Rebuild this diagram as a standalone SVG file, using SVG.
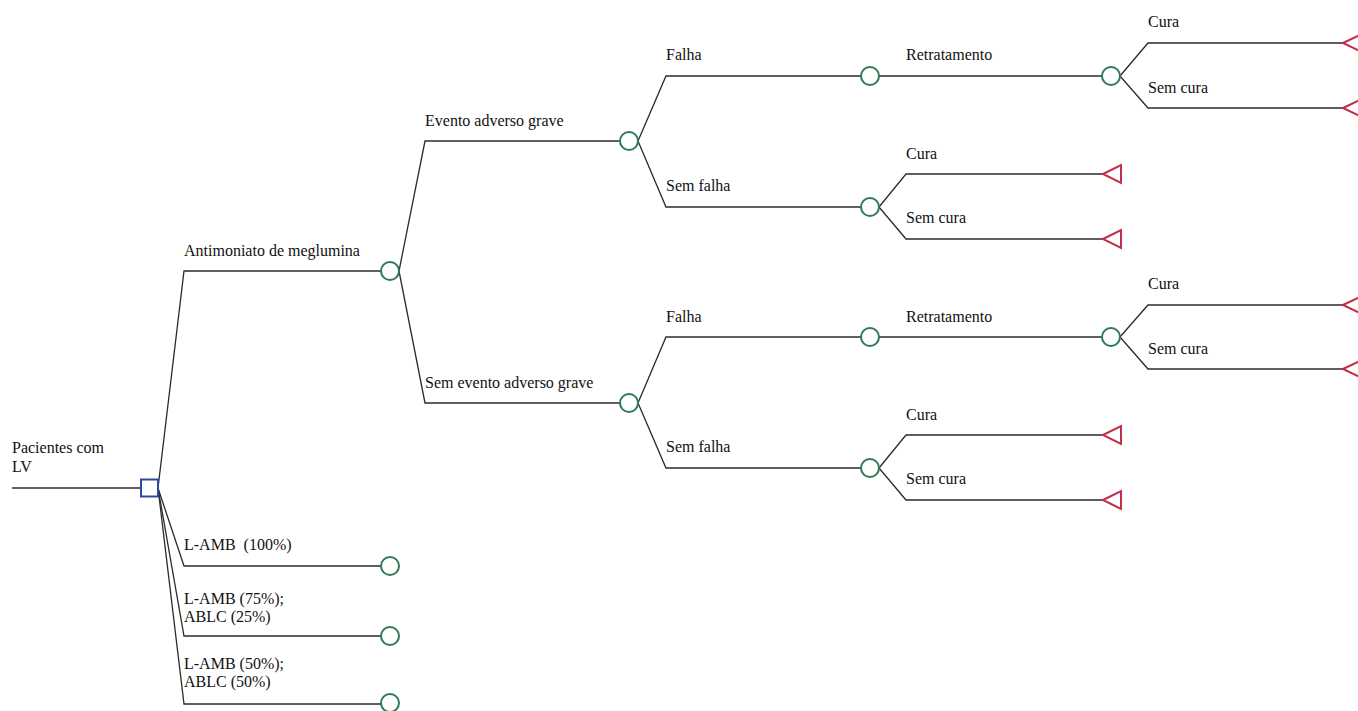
<svg xmlns="http://www.w3.org/2000/svg" width="1358" height="711" viewBox="0 0 1358 711">
<style>
.ln{fill:none;stroke:#2b2b2b;stroke-width:1.3}
.ch{fill:#fff;stroke:#2f7a55;stroke-width:2}
.dc{fill:#fff;stroke:#2a4a9a;stroke-width:2}
.tm{fill:#fff;stroke:#c0304a;stroke-width:2}
text{font-family:"Liberation Serif","Times New Roman",serif;font-size:16px;fill:#111}
</style>
<rect width="1358" height="711" fill="#fff"/>
<g id="connectors">
<path class="ln" d="M12,488H141"/>
<path class="ln" d="M158,488L184,271H381"/>
<path class="ln" d="M158,488L184,566H381"/>
<path class="ln" d="M158,488L184,636H381"/>
<path class="ln" d="M158,488L184,704H381"/>
<path class="ln" d="M399,271L425,141H620"/>
<path class="ln" d="M399,271L425,403H620"/>
<path class="ln" d="M638,141L666,76H861"/>
<path class="ln" d="M638,141L666,207H861"/>
<path class="ln" d="M879,76H1102"/>
<path class="ln" d="M1120,76L1148,43H1343"/>
<path class="ln" d="M1120,76L1148,108H1343"/>
<path class="ln" d="M879,207L906,174H1103"/>
<path class="ln" d="M879,207L906,239H1103"/>
<path class="ln" d="M638,403L666,337H861"/>
<path class="ln" d="M638,403L666,468H861"/>
<path class="ln" d="M879,337H1102"/>
<path class="ln" d="M1120,337L1148,305H1343"/>
<path class="ln" d="M1120,337L1148,369H1343"/>
<path class="ln" d="M879,468L906,435H1103"/>
<path class="ln" d="M879,468L906,500H1103"/>
</g>
<g id="root"><rect class="dc" x="141" y="479.5" width="17" height="17"/><text x="12" y="453">Pacientes com</text><text x="12" y="472">LV</text></g>
<g id="antimoniato"><circle class="ch" cx="390" cy="271" r="9"/><text x="184" y="256">Antimoniato de meglumina</text></g>
<g id="lamb100"><circle class="ch" cx="390" cy="566" r="9"/><text x="184" y="550" xml:space="preserve">L-AMB  (100%)</text></g>
<g id="lamb75"><circle class="ch" cx="390" cy="636" r="9"/><text x="184" y="604">L-AMB (75%);</text><text x="184" y="622">ABLC (25%)</text></g>
<g id="lamb50"><circle class="ch" cx="390" cy="703" r="9"/><text x="184" y="669">L-AMB (50%);</text><text x="184" y="687">ABLC (50%)</text></g>
<g id="eag"><circle class="ch" cx="629" cy="141" r="9"/><text x="425" y="126">Evento adverso grave</text></g>
<g id="seag"><circle class="ch" cx="629" cy="403" r="9"/><text x="425" y="388">Sem evento adverso grave</text></g>
<g id="falha1"><circle class="ch" cx="870" cy="76" r="9"/><text x="666" y="60">Falha</text></g>
<g id="semfalha1"><circle class="ch" cx="870" cy="207" r="9"/><text x="666" y="191">Sem falha</text></g>
<g id="retrat1"><circle class="ch" cx="1111" cy="76" r="9"/><text x="906" y="60">Retratamento</text></g>
<g id="cura1"><polygon class="tm" points="1343,43 1362,34 1362,52"/><text x="1148" y="27">Cura</text></g>
<g id="semcura1"><polygon class="tm" points="1343,108 1362,99 1362,117"/><text x="1148" y="93">Sem cura</text></g>
<g id="cura2"><polygon class="tm" points="1103,174 1121,165 1121,183"/><text x="906" y="159">Cura</text></g>
<g id="semcura2"><polygon class="tm" points="1103,239 1121,230 1121,248"/><text x="906" y="223">Sem cura</text></g>
<g id="falha2"><circle class="ch" cx="870" cy="337" r="9"/><text x="666" y="322">Falha</text></g>
<g id="semfalha2"><circle class="ch" cx="870" cy="468" r="9"/><text x="666" y="452">Sem falha</text></g>
<g id="retrat2"><circle class="ch" cx="1111" cy="337" r="9"/><text x="906" y="322">Retratamento</text></g>
<g id="cura3"><polygon class="tm" points="1343,305 1362,296 1362,314"/><text x="1148" y="289">Cura</text></g>
<g id="semcura3"><polygon class="tm" points="1343,369 1362,360 1362,378"/><text x="1148" y="354">Sem cura</text></g>
<g id="cura4"><polygon class="tm" points="1103,435 1121,426 1121,444"/><text x="906" y="420">Cura</text></g>
<g id="semcura4"><polygon class="tm" points="1103,500 1121,491 1121,509"/><text x="906" y="484">Sem cura</text></g>
</svg>
